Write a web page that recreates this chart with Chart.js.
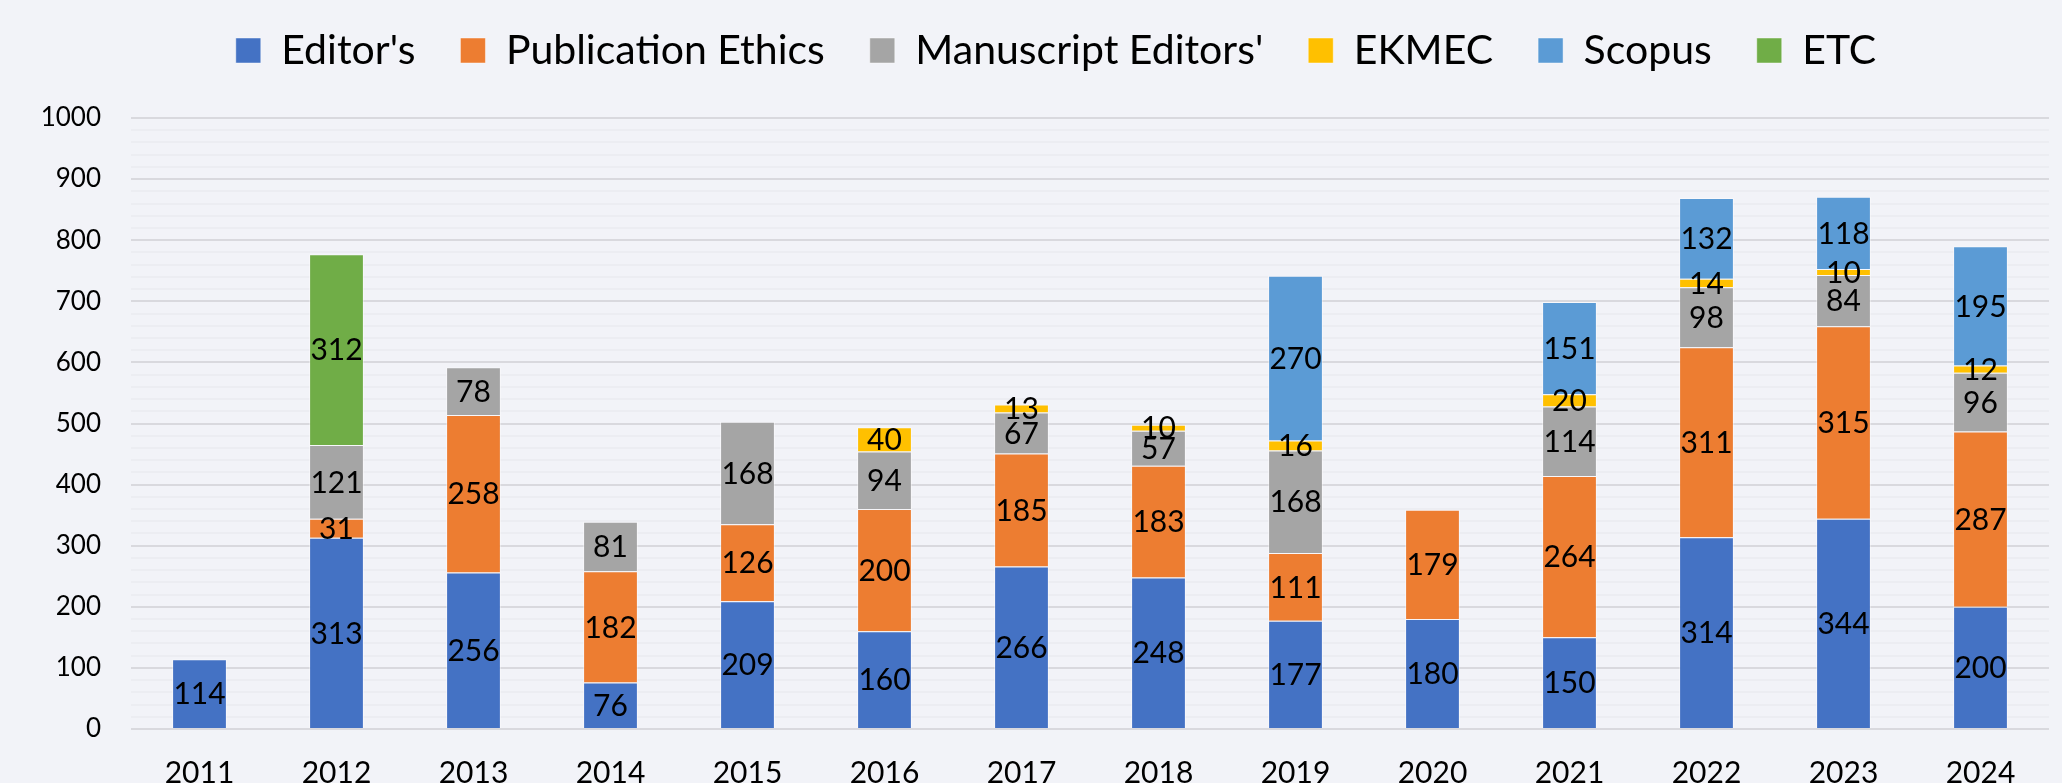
<!DOCTYPE html>
<html>
<head>
<meta charset="utf-8">
<title>Stacked bars by year</title>
<script src="https://cdn.jsdelivr.net/npm/chart.js@4.4.1/dist/chart.umd.min.js"></script>
<style>
    html, body { margin: 0; padding: 0; background: #f2f3f8; overflow: hidden; }
    #wrap { width: 2062px; height: 800px; }
</style>
</head>
<body>
<div id="wrap"><canvas id="chart"></canvas></div>
<script>
// --- Dados ---
const years = ['2011', '2012', '2013', '2014', '2015', '2016', '2017', '2018', '2019', '2020', '2021', '2022', '2023', '2024'];
const editors = [114, 313, 256, 76, 209, 160, 266, 248, 177, 180, 150, 314, 344, 200];
const publicationEthics = [null, 31, 258, 182, 126, 200, 185, 183, 111, 179, 264, 311, 315, 287];
const manuscriptEditors = [null, 121, 78, 81, 168, 94, 67, 57, 168, null, 114, 98, 84, 96];
const ekmec = [null, null, null, null, null, 40, 13, 10, 16, null, 20, 14, 10, 12];
const scopus = [null, null, null, null, null, null, null, null, 270, null, 151, 132, 118, 195];
const etc = [null, 312, null, null, null, null, null, null, null, null, null, null, null, null];
const yMin = 0;
const yMax = 1000;
const yStep = 100;
const yMinorStep = 20;

const FONT = 'Lato';

// rótulos no centro de cada segmento
const barLabels = {
    id: 'barLabels',
    afterDatasetsDraw(chart) {
        const ctx = chart.ctx;
        ctx.save();
        ctx.font = `30px ${FONT}`;
        ctx.fillStyle = '#000';
        ctx.textAlign = 'center';
        ctx.textBaseline = 'middle';
        chart.data.datasets.forEach((ds, i) => {
            const meta = chart.getDatasetMeta(i);
            meta.data.forEach((bar, j) => {
                const v = ds.data[j];
                if (v == null) return;
                const { x, y, base } = bar.getProps(['x', 'y', 'base'], true);
                ctx.fillText(String(v), x, (y + base) / 2 + 1);
            });
        });
        ctx.restore();
    }
};

// espaço extra entre legenda e área do gráfico
const legendGap = {
    id: 'legendGap',
    beforeInit(chart) {
        const fit = chart.legend.fit;
        chart.legend.fit = function () {
            fit.call(this);
            this.height += 37;
        };
    }
};

function series(label, data, color) {
    return {
        label: label,
        data: data,
        backgroundColor: color,
        borderColor: 'rgba(255,255,255,0.45)',
        borderWidth: 1,
        stack: 'total',
        barPercentage: 0.4,
        categoryPercentage: 1.0
    };
}

new Chart(document.getElementById('chart'), {
    type: 'bar',
    data: {
        labels: years,
        datasets: [
            series("Editor's", editors, '#4472c4'),
            series('Publication Ethics', publicationEthics, '#ed7d31'),
            series("Manuscript Editors'", manuscriptEditors, '#a5a5a5'),
            series('EKMEC', ekmec, '#ffc000'),
            series('Scopus', scopus, '#5b9bd5'),
            series('ETC', etc, '#70ad47')
        ]
    },
    options: {
        responsive: true,
        maintainAspectRatio: false,
        animation: false,
        // padding direita negativa só para centrar a legenda como no original
        layout: { padding: { top: -15, left: 0, right: -50, bottom: 0 } },
        plugins: {
            legend: {
                position: 'top',
                labels: {
                    color: '#000',
                    font: { family: FONT, size: 41 },
                    boxWidth: 25,
                    boxHeight: 25,
                    padding: 45
                }
            },
            tooltip: { enabled: false }
        },
        scales: {
            x: {
                stacked: true,
                grid: { display: false },
                border: { display: false },
                ticks: { color: '#000', font: { family: FONT, size: 30 }, padding: 18 },
                afterFit(scale) { scale.height = 71; }
            },
            y: {
                stacked: true,
                min: yMin,
                max: yMax,
                grid: { color: '#d9d9de', lineWidth: 2, drawTicks: false },
                border: { display: false },
                ticks: {
                    stepSize: yStep,
                    color: '#000',
                    font: { family: FONT, size: 26 },
                    padding: 30,
                    callback: (v) => String(v)
                },
                afterFit(scale) { scale.width = 131; }
            },
            yMinor: {
                type: 'linear',
                position: 'right',
                min: yMin,
                max: yMax,
                grid: {
                    color: (c) => (c.tick.value % yStep === 0 ? 'transparent' : 'rgba(0,0,0,0.025)'),
                    lineWidth: 2,
                    drawTicks: false
                },
                border: { display: false },
                ticks: { stepSize: yMinorStep, display: false },
                afterFit(scale) { scale.width = 63; }
            }
        }
    },
    plugins: [barLabels, legendGap]
});
</script>
</body>
</html>
